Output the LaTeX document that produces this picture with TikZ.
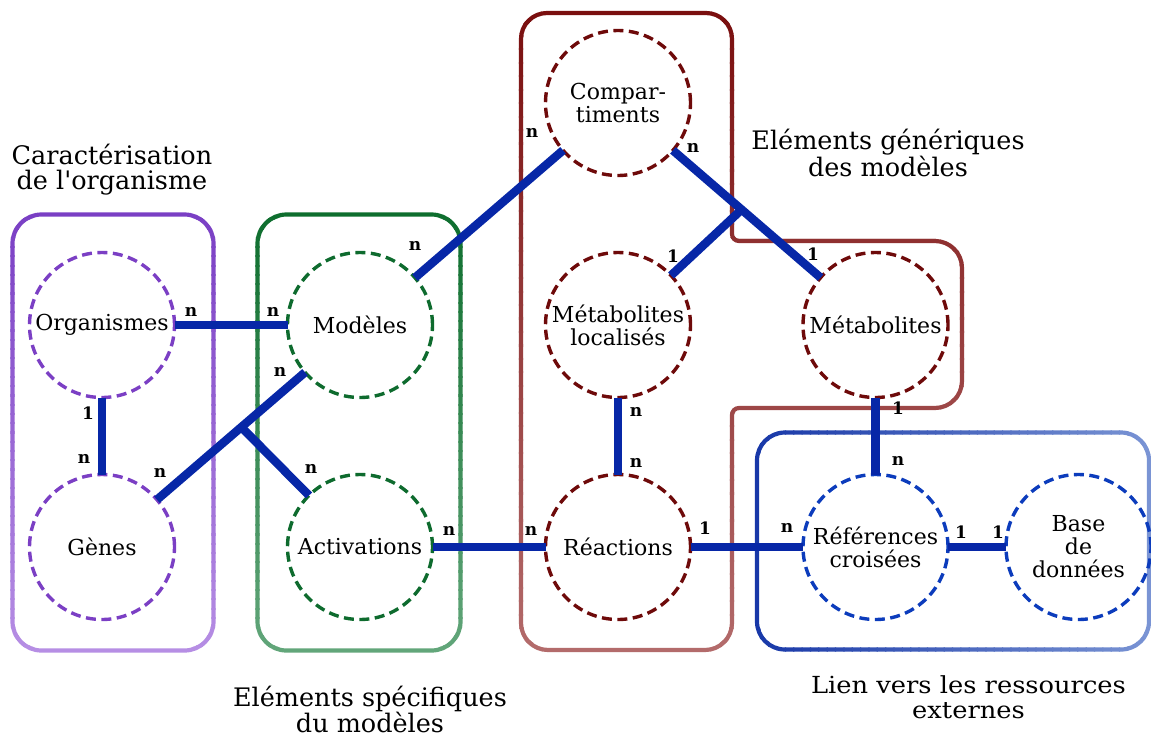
\documentclass[tikz,border=0pt]{standalone}
\usepackage{graphicx}
\usepackage{fontspec}
\setmainfont{DejaVu Serif}[Ligatures=TeXOff]
\usetikzlibrary{calc}

% colours
\definecolor{linkblue}{HTML}{0727A7}
\definecolor{orgtop}{HTML}{7A3FC4}
\definecolor{orgbot}{HTML}{B68EE4}
\definecolor{orgdash}{HTML}{7B3FC4}
\definecolor{spetop}{HTML}{0E6E2E}
\definecolor{spebot}{HTML}{62A67A}
\definecolor{spedash}{HTML}{0E6B2E}
\definecolor{gentop}{HTML}{7A0F0F}
\definecolor{genbot}{HTML}{B36B6B}
\definecolor{gendash}{HTML}{6E0A0A}
\definecolor{extleft}{HTML}{1838A8}
\definecolor{extright}{HTML}{7A94D4}
\definecolor{extdash}{HTML}{0C3CBC}

% stroke a path with a colour running from top to bottom
\newcommand\vgradstroke[5]{%
  \pgfmathsetmacro\bandw{(#5-#4)/48}%
  \foreach \k in {0,...,47}{%
    \pgfmathsetmacro\ya{#4+\bandw*\k-0.6}%
    \pgfmathsetmacro\yb{#4+\bandw*(\k+1)+0.6}%
    \pgfmathtruncatemacro\pct{100*\k/47}%
    \colorlet{bandcol}{#3!\pct!#2}%
    \begin{scope}
      \clip (-20,\ya) rectangle (1200,\yb);
      \draw[groupline, draw=bandcol] #1;
    \end{scope}
  }%
}
% stroke a path with a colour running from left to right
\newcommand\hgradstroke[5]{%
  \pgfmathsetmacro\bandw{(#5-#4)/48}%
  \foreach \k in {0,...,47}{%
    \pgfmathsetmacro\xa{#4+\bandw*\k-0.6}%
    \pgfmathsetmacro\xb{#4+\bandw*(\k+1)+0.6}%
    \pgfmathtruncatemacro\pct{100*\k/47}%
    \colorlet{bandcol}{#3!\pct!#2}%
    \begin{scope}
      \clip (\xa,-20) rectangle (\xb,760);
      \draw[groupline, draw=bandcol] #1;
    \end{scope}
  }%
}

\begin{document}
\begin{tikzpicture}[x=1pt, y=-1pt,
  groupline/.style={line width=4.2pt},
  entity/.style={circle, draw, line width=3.4pt, dash pattern=on 10pt off 5.5pt,
    minimum size=145pt, inner sep=0pt, outer sep=0pt, align=center,
    font=\fontsize{22}{23}\selectfont},
  link/.style={draw=linkblue, line width=8.5pt},
  card/.style={inner sep=0pt, font=\bfseries\fontsize{17}{17}\selectfont},
  caption/.style={align=center, inner sep=0pt, font=\fontsize{25.5}{25.5}\selectfont}]

\useasboundingbox (0,0) rectangle (1151,737);

% group outlines
\vgradstroke{[rounded corners=29] (12.5,214.5) rectangle (213.5,650.5)}{orgtop}{orgbot}{210}{655}
\vgradstroke{[rounded corners=29] (257.5,214.5) rectangle (460.5,650.5)}{spetop}{spebot}{210}{655}
\vgradstroke{(521,39) .. controls (521,24.6) and (532.6,13) .. (547,13)
  -- (706,13) .. controls (720.4,13) and (732,24.6) .. (732,39)
  -- (732,234) .. controls (732,237.9) and (735.1,241) .. (739,241)
  -- (935,241) .. controls (949.9,241) and (962,253.1) .. (962,268)
  -- (962,381) .. controls (962,395.9) and (949.9,408) .. (935,408)
  -- (739,408) .. controls (735.1,408) and (732,411.1) .. (732,415)
  -- (732,623) .. controls (732,637.9) and (719.9,650) .. (705,650)
  -- (548,650) .. controls (533.1,650) and (521,637.9) .. (521,623)
  -- cycle}{gentop}{genbot}{9}{655}
\hgradstroke{[rounded corners=28] (757,432.5) rectangle (1149,649.5)}{extleft}{extright}{752}{1153}

% entities
\node[entity, draw=orgdash] (org) at (102,325) {Organismes};
\node[entity, draw=orgdash] (gen) at (102,547) {Gènes};
\node[entity, draw=spedash] (mod) at (360,325) {Modèles};
\node[entity, draw=spedash] (act) at (360,547) {Activations};
\node[entity, draw=gendash] (comp) at (618,103) {Compar-\\timents};
\node[entity, draw=gendash] (metloc) at (618,325) {Métabolites\\localisés};
\node[entity, draw=gendash] (rea) at (618,547) {Réactions};
\node[entity, draw=gendash] (met) at (875.5,325) {Métabolites};
\node[entity, draw=extdash] (ref) at (875.5,547) {Références\\croisées};
\node[entity, draw=extdash] (bdd) at (1078.5,547) {Base\\de\\données};

% junction points of the three-way links
\coordinate (j1) at ($(gen)!0.54!(mod)$);
\coordinate (j2) at ($(comp)!0.48!(met)$);

% links
\draw[link] (org.east) -- (mod.west);
\draw[link] (org) -- (gen);
\draw[link] (gen) -- (mod);
\draw[link] (j1) -- (act);
\draw[link] (mod) -- (comp);
\draw[link] (comp) -- (met);
\draw[link] (j2) -- (metloc);
\draw[link] (metloc) -- (rea);
\draw[link] (act.east) -- (rea.west);
\draw[link] (rea.east) -- (ref.west);
\draw[link] (met) -- (ref);
\draw[link] (ref.east) -- (bdd.west);

% cardinalities
\node[card] (c1) at (191,312) {n};
\node[card] (c2) at (273,312) {n};
\node[card] (c3) at (88,413) {1};
\node[card] (c4) at (84,459) {n};
\node[card] (c5) at (160,473) {n};
\node[card] (c6) at (280,372) {n};
\node[card] (c7) at (311,469) {n};
\node[card] (c8) at (415,246) {n};
\node[card] (c9) at (532,133) {n};
\node[card] (c10) at (693,148) {n};
\node[card] (c11) at (673,256) {1};
\node[card] (c12) at (813,254) {1};
\node[card] (c13) at (898,408) {1};
\node[card] (c14) at (898,461) {n};
\node[card] (c15) at (636,412) {n};
\node[card] (c16) at (636,463) {n};
\node[card] (c17) at (449,531) {n};
\node[card] (c18) at (531,531) {n};
\node[card] (c19) at (705,528) {1};
\node[card] (c20) at (787,528) {n};
\node[card] (c21) at (961,532) {1};
\node[card] (c22) at (998,532) {1};

% group captions
\node[caption] (tOrg) at (112,169.5) {Caractérisation\\de l'organisme};
\node[caption] (tGen) at (888,152.5) {Eléments génériques\\des modèles};
\node[caption] (tSpe) at (370,709.5) {Eléments spécifiques\\du modèles};
\node[inner sep=0pt, font=\fontsize{23.5}{25}\selectfont] (tExt) at (968.5,701)
  {\scalebox{1.095}[1]{\begin{tabular}{@{}c@{}}Lien vers les ressources\\externes\end{tabular}}};
\end{tikzpicture}
\end{document}
